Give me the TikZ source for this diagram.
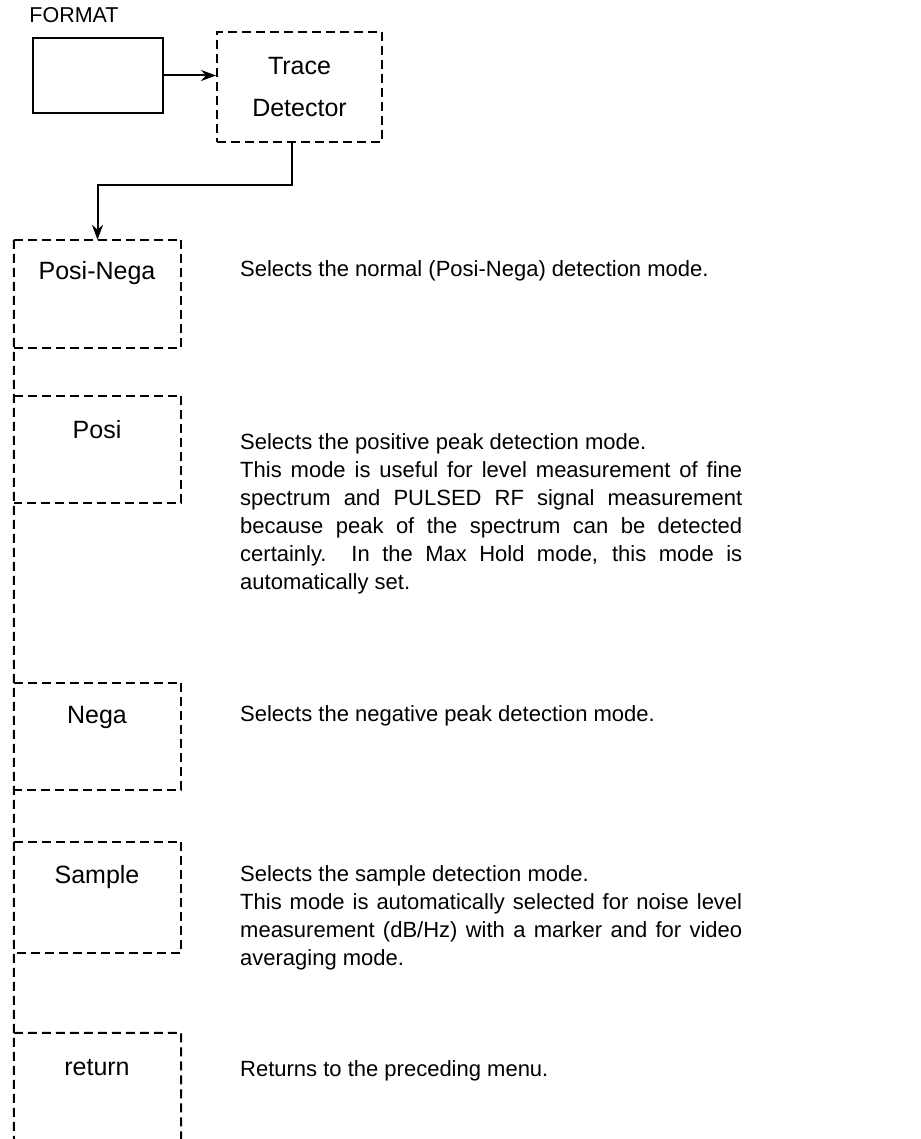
\documentclass[tikz,border=0pt]{standalone}
\usepackage{fontspec}
\setmainfont{Liberation Sans}
\usetikzlibrary{arrows.meta}
\newcommand{\jl}[1]{\makebox[502pt][s]{#1}}
\begin{document}
\begin{tikzpicture}[x=1pt,y=-1pt,
  dl/.style={line width=2pt, dash pattern=on 9pt off 5pt},
  solidbox/.style={draw, line width=2.4pt, minimum width=130pt, minimum height=75pt, inner sep=0},
  ghost/.style={minimum width=167pt, inner sep=0},
  lbl/.style={font=\fontsize{25}{29}\selectfont, inner sep=0},
  desc/.style={font=\fontsize{22}{28}\selectfont, inner sep=0, align=left},
  arr/.style={line width=2pt, -{Stealth[length=15pt,width=11pt]}}]
\useasboundingbox (0,0) rectangle (920,1139);

% top
\node[lbl, font=\fontsize{21.5}{25}\selectfont] (fmtlabel) at (74,15) {FORMAT};
\node[solidbox] (fmt) at (98,75.5) {};
\node[dl, draw, minimum width=165pt, minimum height=110pt, inner sep=0,
      font=\fontsize{25}{42}\selectfont, align=center] (trace) at (299.5,87) {Trace\\Detector};
\draw[arr] (fmt.east) -- (fmt.east -| trace.west);

% menu boxes (geometry holders)
\node[ghost, minimum height=108pt] (pn) at (97.5,294) {};
\node[ghost, minimum height=107pt] (po) at (97.5,449.5) {};
\node[ghost, minimum height=107pt] (ne) at (97.5,736.5) {};
\node[ghost, minimum height=111pt] (sa) at (97.5,897.5) {};
\node[ghost, minimum height=107pt] (re) at (97.5,1086.5) {};
\coordinate (leftend) at (14,1139);
\coordinate (rightend) at (181,1139);

\draw[arr] ([xshift=-7.5pt]trace.south) -- ++(0,42) -| (pn.north);

\draw[dl] (pn.north west) -- (leftend);
\foreach \b in {pn,po,ne,sa}
  \draw[dl] (\b.north west) -- (\b.north east) -- (\b.south east) -- (\b.south west);
\draw[dl] (re.north west) -- (re.north east) -- (rightend);

% box labels
\node[lbl] (pnl) at (97,273) {Posi-Nega};
\node[lbl] (pol) at (97,430) {Posi};
\node[lbl] (nel) at (97,717) {Nega};
\node[lbl] (sal) at (97,877) {Sample};
\node[lbl] (rel) at (97,1068) {return};

% descriptions
\node[desc, anchor=west] (pnd) at (240,271) {Selects the normal (Posi-Nega) detection mode.};
\node[desc, anchor=north west] (pod) at (240,433) {Selects the positive peak detection mode.\\
\jl{This mode is useful for level measurement of fine}\\
\jl{spectrum and PULSED RF signal measurement}\\
\jl{because peak of the spectrum can be detected}\\
\jl{certainly.\ \ In the Max Hold mode, this mode is}\\
automatically set.};
\node[desc, anchor=west] (ned) at (240,716) {Selects the negative peak detection mode.};
\node[desc, anchor=north west] (sad) at (240,865) {Selects the sample detection mode.\\
\jl{This mode is automatically selected for noise level}\\
\jl{measurement (dB/Hz) with a marker and for video}\\
averaging mode.};
\node[desc, anchor=west] (red) at (240,1071) {Returns to the preceding menu.};
\end{tikzpicture}
\end{document}
